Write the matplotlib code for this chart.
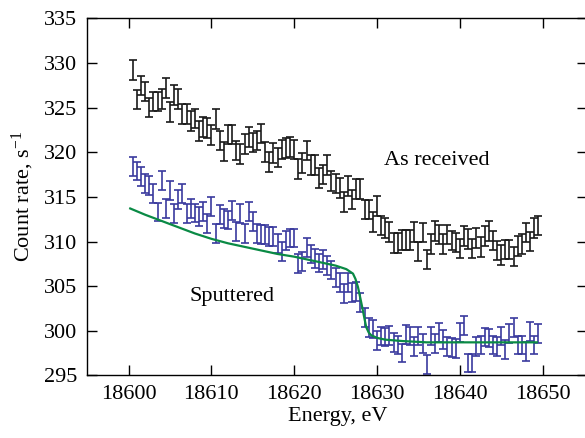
import numpy as np
import matplotlib
matplotlib.use("Agg")
import matplotlib.pyplot as plt

plt.rcParams['font.family'] = ['Liberation Serif', 'DejaVu Serif']
plt.rcParams['mathtext.fontset'] = 'custom'
plt.rcParams['mathtext.rm'] = 'Liberation Serif'
plt.rcParams['mathtext.it'] = 'Liberation Serif:italic'

# Energy grid (eV)
energy_start = 18600.5
energy_step = 0.5

as_received = [
    329.2, 325.9, 327.5, 326.8, 325.0, 325.7, 325.7, 326.0, 327.2, 324.5,
    326.4, 326.0, 324.3, 324.3, 323.5, 323.8, 322.4, 322.8, 322.7, 321.9,
    323.7, 321.3, 320.1, 322.0, 322.0, 320.2, 319.8, 320.9, 321.7, 321.1,
    321.3,
    322.1, 320.0, 318.9, 319.9, 319.4, 320.3, 320.5, 320.6, 320.3, 318.1,
    318.8, 320.2, 318.6, 318.6, 317.1, 317.5, 318.6, 316.8, 316.5, 316.0,
    314.4, 316.2, 314.7, 315.9, 315.9, 313.6, 313.6, 312.2, 314.0, 311.8,
    311.5, 311.1, 309.8,
    309.8, 310.2, 310.2, 310.2, 311.1, 308.9, 311.0, 308.0, 309.7, 311.2,
    310.8, 309.7, 310.8, 310.1, 309.9, 309.2, 310.6, 310.3, 309.2, 310.4,
    309.4, 310.6, 311.2, 310.1, 309.0, 308.5, 309.1, 309.1, 308.3, 309.5,
    309.7, 311.0, 310.0, 311.5, 311.8,
]

sputtered = [
    318.4, 317.9, 317.3, 316.5, 316.3, 315.4, 313.3, 316.8, 313.7, 315.7,
    313.1, 314.7, 315.4, 313.1, 313.7, 313.2, 312.8, 313.4, 312.0, 313.9,
    310.9, 313.0, 312.6, 312.4, 313.5, 311.1, 313.1, 310.9, 313.4, 312.2,
    310.9,
    310.8, 310.8, 310.6, 310.6, 309.8, 308.9, 310.1, 310.4, 310.4, 307.5,
    307.8, 309.3, 308.6, 308.1, 307.6, 308.0, 307.3, 306.8, 306.0,
    305.4, 304.2, 305.4, 304.3, 304.4, 303.2, 301.5, 300.4, 300.2, 298.9,
    299.4, 299.3, 299.5, 298.7,
    298.4, 297.5, 299.6, 299.4, 298.2, 299.4, 298.6, 296.2, 299.4, 298.6,
    299.8, 299.0, 298.2, 298.1, 298.0, 299.8, 300.6, 296.4, 296.4, 298.2,
    298.4, 299.3, 299.2, 298.4, 298.2, 299.4, 297.9, 299.7, 300.4, 298.4,
    298.4, 297.7, 299.9, 298.4, 299.7,
]

as_received_err = 1.1
sputtered_err = 1.05

fit_energy = [18600.2, 18602, 18604, 18606, 18608, 18610, 18612, 18614, 18616,
              18618, 18620, 18622, 18624, 18625, 18626.3, 18627.1, 18627.4,
              18627.7, 18628.0, 18628.2, 18628.5, 18628.7, 18629.0, 18629.3,
              18630, 18631, 18633, 18636, 18640, 18645, 18649.3]
fit_values = [313.7, 313.0, 312.3, 311.6, 310.9, 310.3, 309.8, 309.4, 309.0,
              308.6, 308.3, 307.9, 307.5, 307.3, 306.9, 306.4, 305.8,
              304.9, 303.6, 302.7, 301.3, 300.4, 299.8, 299.5,
              299.2, 299.0, 298.85, 298.7, 298.7, 298.7, 298.7]

x_ticks = [18600, 18610, 18620, 18630, 18640, 18650]
y_ticks = [295, 300, 305, 310, 315, 320, 325, 330, 335]

energy_black = energy_start + energy_step * np.arange(len(as_received))
energy_blue = energy_start + energy_step * np.arange(len(sputtered))

fig = plt.figure(figsize=(5.85, 4.38), dpi=100)
ax = fig.add_axes([0.149, 0.143, 0.855, 0.815])

ax.errorbar(energy_black, as_received, yerr=as_received_err, fmt='none',
            ecolor='#1a1a1a', elinewidth=1.2, capsize=3.2, capthick=1.2, zorder=2)
ax.errorbar(energy_blue, sputtered, yerr=sputtered_err, fmt='none',
            ecolor='#3a3a9e', elinewidth=1.2, capsize=3.2, capthick=1.2, zorder=2)
ax.plot(fit_energy, fit_values, color='#0a8a45', lw=1.6, zorder=3)

ax.set_xlim(18595, 18655.4)
ax.set_ylim(295, 335)
ax.set_xticks(x_ticks)
ax.set_yticks(y_ticks)
ax.tick_params(direction='in', length=7, width=1.0, labelsize=16,
               top=True, right=True, pad=7)
for s in ax.spines.values():
    s.set_linewidth(1.0)

ax.set_xlabel('Energy, eV', fontsize=16, labelpad=2)
ax.set_ylabel('Count rate, s$^{\\mathregular{-1}}$', fontsize=16, labelpad=6)

ax.text(18630.8, 318.55, 'As received', fontsize=16, ha='left', va='baseline')
ax.text(18607.3, 303.3, 'Sputtered', fontsize=16, ha='left', va='baseline')

fig.savefig('out.png', dpi=100)
